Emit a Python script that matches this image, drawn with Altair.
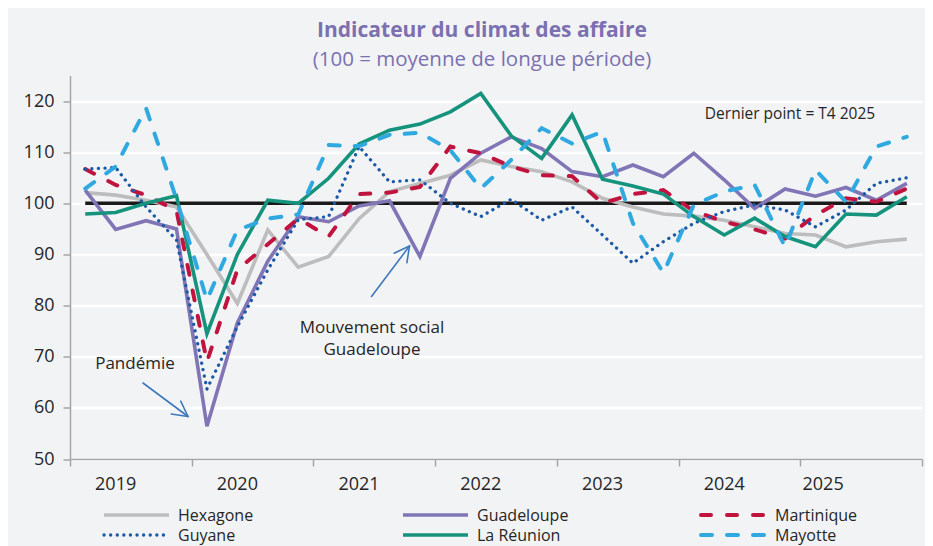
import altair as alt
import pandas as pd
import math

# ---------------- data ----------------
years = ["2019", "2020", "2021", "2022", "2023", "2024", "2025"]
quarters = [f"T{q} {y}" for y in years for q in (1, 2, 3, 4)]

series_names = ["Hexagone", "Guadeloupe", "Martinique", "Guyane", "La Réunion", "Mayotte"]

hexagone = [102.1, 101.6, 100.6, 99.3, 90.0, 80.4, 94.8, 87.5, 89.6, 97.0,
            102.3, 103.9, 105.5, 108.5, 107.2, 106.2, 104.2, 101.0, 99.3, 97.9,
            97.5, 96.7, 95.4, 94.1, 93.8, 91.5, 92.5, 93.0]
guadeloupe = [102.6, 94.9, 96.6, 95.0, 56.4, 76.6, 88.7, 97.4, 96.4, 99.5,
              100.5, 89.6, 104.9, 109.8, 113.0, 110.7, 106.2, 105.2, 107.5, 105.2,
              109.8, 104.6, 99.0, 102.8, 101.4, 103.1, 100.6, 103.9]
martinique = [106.7, 103.6, 101.6, 98.6, 69.0, 87.0, 92.0, 97.0, 93.5, 101.8,
              102.1, 103.2, 111.1, 109.8, 107.2, 105.5, 105.3, 100.0, 101.8, 102.6,
              98.5, 96.4, 94.9, 93.1, 97.7, 101.0, 100.3, 102.9]
guyane = [106.7, 107.0, 99.3, 92.8, 63.7, 75.9, 87.0, 96.8, 97.4, 111.1,
          104.2, 104.6, 100.0, 97.4, 100.8, 96.7, 99.3, 93.8, 88.3, 92.5,
          96.1, 98.4, 99.7, 98.7, 95.4, 98.7, 103.9, 105.0]
reunion = [97.9, 98.2, 100.0, 101.5, 74.5, 90.0, 100.6, 100.0, 104.9, 111.6,
           114.3, 115.5, 117.9, 121.5, 113.2, 108.8, 117.3, 104.7, 103.4, 101.8,
           97.4, 93.8, 97.1, 93.5, 91.5, 97.9, 97.7, 101.3]
mayotte = [102.9, 107.2, 118.6, 100.8, 81.1, 94.8, 97.0, 97.8, 111.4, 111.2,
           113.4, 113.8, 110.4, 102.9, 108.5, 114.7, 111.7, 114.0, 96.1, 86.4,
           99.7, 102.3, 103.6, 91.5, 106.5, 100.3, 111.1, 113.0]
reference_level = [100] * len(quarters)

values = {
    "Hexagone": hexagone, "Guadeloupe": guadeloupe, "Martinique": martinique,
    "Guyane": guyane, "La Réunion": reunion, "Mayotte": mayotte,
}

# ---------------- styling / layout ----------------
FONT = "Open Sans"
BG = "#f2f3f5"
TEXT = "#262626"
AXIS_GREY = "#a6a6a6"
TITLE_COL = "#7b70b0"
ARROW_COL = "#3d78bd"

N = len(quarters)
W, H = 852, 383.5
Y_DOMAIN = [50, 125]

styles = {
    "Hexagone":   dict(color="#bdbdbd", strokeWidth=3.6),
    "Guadeloupe": dict(color="#8175b6", strokeWidth=3.6),
    "Martinique": dict(color="#c0143f", strokeWidth=4, strokeDash=[10, 16], strokeCap="round"),
    "Guyane":     dict(color="#1d5aa6", strokeWidth=3.3, strokeDash=[0.1, 6.5], strokeCap="round"),
    "La Réunion": dict(color="#16937d", strokeWidth=3.6),
    "Mayotte":    dict(color="#30a9e1", strokeWidth=4, strokeDash=[11, 15], strokeCap="round"),
}

x_scale = alt.Scale(domain=[0, N], nice=False, zero=False)
x_enc = alt.X(
    "pos:Q", scale=x_scale,
    axis=alt.Axis(values=list(range(0, N + 1, 4)), labels=False, grid=False, title=None,
                  domainColor=AXIS_GREY, domainWidth=1.5, tickColor=AXIS_GREY,
                  tickWidth=1.5, tickSize=7, zindex=1),
)
y_enc = alt.Y(
    "value:Q",
    scale=alt.Scale(domain=Y_DOMAIN, nice=False, zero=False),
    axis=alt.Axis(values=list(range(50, 121, 10)), grid=True, gridColor="white",
                  gridWidth=2.5, title=None, labelFontSize=18, labelColor=TEXT,
                  labelFont=FONT, labelPadding=9, tickSize=7, tickColor=AXIS_GREY,
                  tickWidth=1.5, domainColor=AXIS_GREY, domainWidth=1.5),
)

def series_df(vals, name):
    return pd.DataFrame({"pos": [i + 0.5 for i in range(len(vals))],
                         "quarter": quarters, "value": vals, "series": name})

layers = []
# reference line at 100
layers.append(alt.Chart(series_df(reference_level, "100")).mark_line(
    color="#1a1a1a", strokeWidth=3.5).encode(x=x_enc, y=y_enc))

for name in series_names:
    layers.append(alt.Chart(series_df(values[name], name)).mark_line(**styles[name])
                  .encode(x=x_enc, y=y_enc))

# year labels (the reference places them near the middle of each year; the
# last one sits a little further left, as in the source)
year_pos = [4 * k + 1.5 for k in range(len(years))]
year_pos[-1] = 4 * (len(years) - 1) + 0.75
year_df = pd.DataFrame({"year": years, "pos": year_pos})
layers.append(alt.Chart(year_df).mark_text(
    font=FONT, fontSize=18, color=TEXT, baseline="alphabetic", align="center"
).encode(x=alt.X("pos:Q", scale=x_scale), y=alt.value(414.5), text="year:N"))

# ---- annotations (positions relative to plot area) ----
def txt(s, x, y, size=17, color=TEXT, weight="normal", align="center"):
    return alt.Chart(pd.DataFrame({"t": [s]})).mark_text(
        font=FONT, fontSize=size, color=color, fontWeight=weight,
        align=align, baseline="alphabetic"
    ).encode(x=alt.value(x), y=alt.value(y), text="t:N")

def seg(x1, y1, x2, y2, color=ARROW_COL, width=1.6):
    return alt.Chart(pd.DataFrame({"k": [0]})).mark_rule(
        color=color, strokeWidth=width, strokeCap="round"
    ).encode(x=alt.value(x1), y=alt.value(y1), x2=alt.value(x2), y2=alt.value(y2))

def arrow(x1, y1, x2, y2, head=17, ang=28):
    out = [seg(x1, y1, x2, y2)]
    back = math.atan2(y1 - y2, x1 - x2)
    for s in (-1, 1):
        a = back + s * math.radians(ang)
        out.append(seg(x2, y2, x2 + head * math.cos(a), y2 + head * math.sin(a)))
    return out

OX, OY = 70, 75.5  # page position of plot origin
layers.append(txt("Indicateur du climat des affaire", 482 - OX, 36.5 - OY, size=21,
                  color=TITLE_COL, weight="bold"))
layers.append(txt("(100 = moyenne de longue période)", 482 - OX, 65.5 - OY, size=20.5,
                  color=TITLE_COL))
layers.append(txt("Dernier point = T4 2025", 790 - OX, 119 - OY, size=15.5))
layers.append(txt("Pandémie", 135 - OX, 369 - OY))
layers.append(txt("Mouvement social", 372 - OX, 332.5 - OY))
layers.append(txt("Guadeloupe", 372 - OX, 355 - OY))
layers += arrow(143 - OX, 383 - OY, 188 - OX, 416.5 - OY)
layers += arrow(371.5 - OX, 296.5 - OY, 409.5 - OX, 246 - OY)

# ---- legend (3 columns x 2 rows) ----
col_x = [102, 401, 699]
row_y = [515, 535]
for k, name in enumerate(series_names):
    sx = col_x[k % 3] - OX
    sy = row_y[k // 3] - OY
    st = dict(styles[name])
    layers.append(alt.Chart(pd.DataFrame({"k": [0]})).mark_rule(**st).encode(
        x=alt.value(sx + 2), x2=alt.value(sx + 67), y=alt.value(sy)))
    layers.append(txt(name, sx + 76, sy + 5.5, size=16, align="left"))

chart = alt.layer(*layers).properties(
    width=W, height=H,
    autosize=alt.AutoSizeParams(type="none"),
    padding={"left": OX - 8, "top": OY - 8, "right": 3, "bottom": 538 - (OY - 8) - H},
    background=BG,
).configure_view(stroke=None, fill=BG).configure_axis(labelFont=FONT)

chart.save("out.html", embed_options={"renderer": "svg", "actions": False})
